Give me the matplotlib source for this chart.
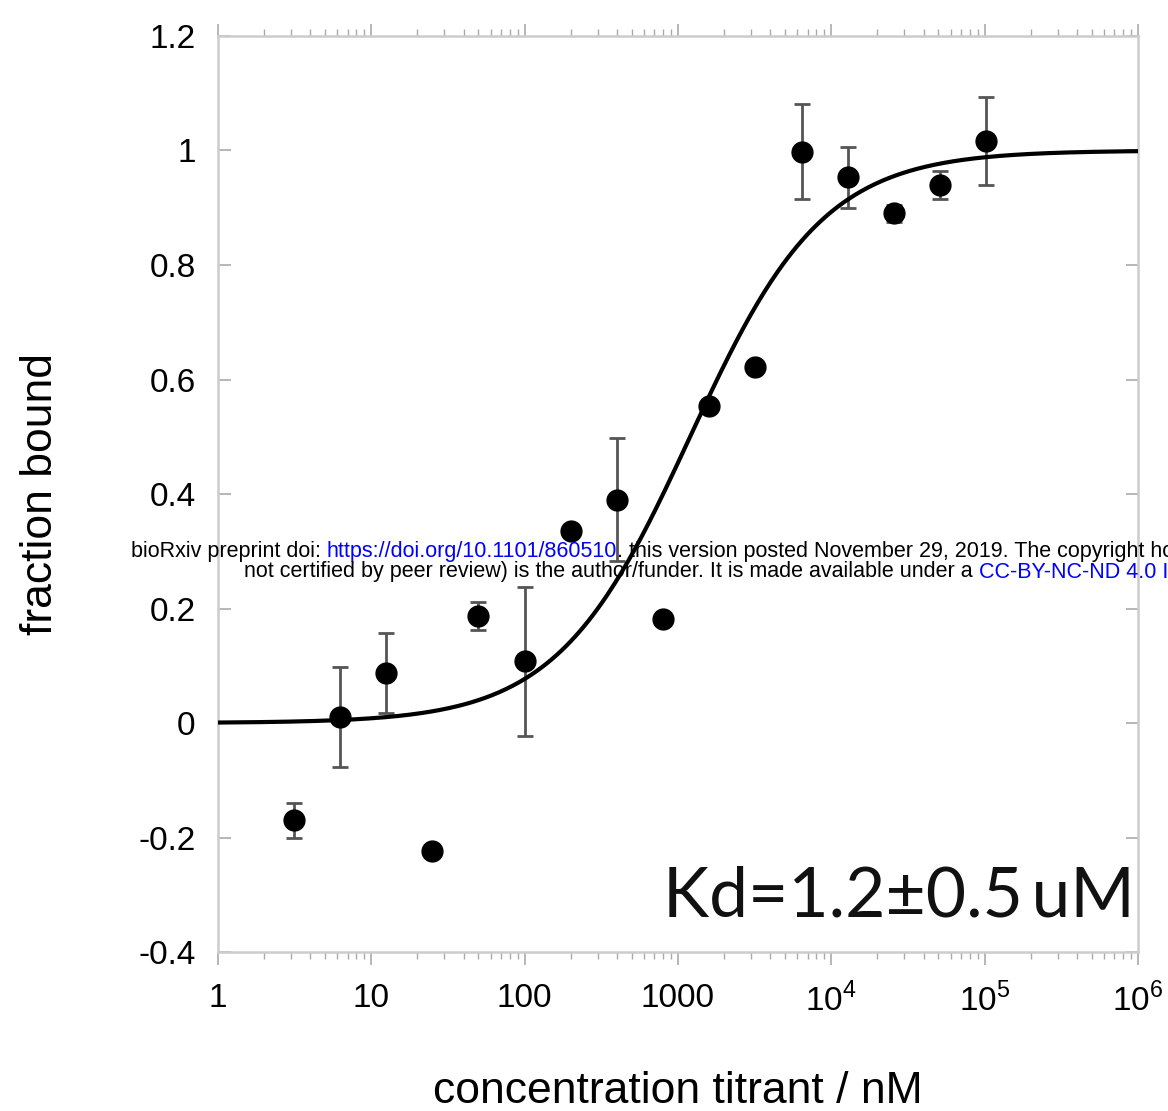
import numpy as np
import matplotlib
matplotlib.use("Agg")
import matplotlib.pyplot as plt
from matplotlib.ticker import FixedLocator, FixedFormatter, LogLocator, NullFormatter

plt.rcParams['font.family'] = ['Liberation Sans', 'DejaVu Sans']
plt.rcParams['mathtext.fontset'] = 'custom'
plt.rcParams['mathtext.rm'] = 'Liberation Sans'

# data (concentration in nM, fraction bound, error)
conc = [3.125, 6.25, 12.5, 25, 50, 100, 200, 400, 800, 1600, 3200, 6400, 12800, 25600, 51200, 102400]
frac = [-0.170, 0.010, 0.087, -0.224, 0.187, 0.108, 0.336, 0.390, 0.182, 0.554, 0.622, 0.998, 0.953, 0.890, 0.940, 1.017]
err  = [0.030, 0.087, 0.070, 0.000, 0.025, 0.130, 0.000, 0.107, 0.000, 0.000, 0.000, 0.083, 0.053, 0.015, 0.025, 0.077]
kd_nM = 1200.0
xticks = [1, 10, 100, 1000, 1e4, 1e5, 1e6]
xticklabels = ['1', '10', '100', '1000', '10$^{4}$', '10$^{5}$', '10$^{6}$']
yticks = [-0.4, -0.2, 0, 0.2, 0.4, 0.6, 0.8, 1, 1.2]
yticklabels = ['-0.4', '-0.2', '0', '0.2', '0.4', '0.6', '0.8', '1', '1.2']

fig = plt.figure(figsize=(11.68, 11.11), dpi=100)
ax = fig.add_axes([0.1866, 0.1431, 0.9743 - 0.1866, 0.9676 - 0.1431])

# fit curve (single-site binding model)
xf = np.logspace(0, 6, 400)
yf = xf / (kd_nM + xf)
ax.plot(xf, yf, color='black', lw=3.0, zorder=3)

ax.errorbar(conc, frac, yerr=err, fmt='none', ecolor='#555555', elinewidth=2.0,
            capsize=5.5, capthick=2.0, zorder=2)
ax.plot(conc, frac, 'o', color='black', ms=15, zorder=4)

ax.set_xscale('log')
ax.set_xlim(1, 1e6)
ax.set_ylim(-0.4, 1.2)
ax.xaxis.set_major_locator(FixedLocator(xticks))
ax.xaxis.set_major_formatter(FixedFormatter(xticklabels))
ax.xaxis.set_minor_locator(LogLocator(base=10, subs=np.arange(2, 10), numticks=20))
ax.xaxis.set_minor_formatter(NullFormatter())
ax.yaxis.set_major_locator(FixedLocator(yticks))
ax.yaxis.set_major_formatter(FixedFormatter(yticklabels))

spine_c = '#cccccc'
for s in ax.spines.values():
    s.set_color(spine_c)
    s.set_linewidth(1.8)

ax.tick_params(axis='x', which='major', direction='out', length=9, width=1.2, color='#aaaaaa',
               top=True, labelsize=24, pad=13)
ax.tick_params(axis='x', which='minor', direction='out', length=5, width=1.0, color='#aaaaaa', top=True)
ax.tick_params(axis='y', which='major', direction='in', length=9, width=1.2, color='#aaaaaa',
               right=True, labelsize=24, pad=16)

ax.set_xlabel('concentration titrant / nM', fontsize=32, labelpad=38)
ax.set_ylabel('fraction bound', fontsize=32, labelpad=56)

ax.text(0.997, 0.06, 'Kd=1.2\u00b10.5\u2009uM', transform=ax.transAxes, ha='right', va='center',
        fontsize=50, family=['Lato', 'DejaVu Sans'], color='#111111', zorder=5)

# bioRxiv watermark overlay
wm = 15.5
t1 = fig.text(131 / 1168, 1 - 551 / 1111, 'bioRxiv preprint doi: ', fontsize=wm, color='black', va='center', ha='left')
a2 = ax.annotate('https://doi.org/10.1101/860510', xy=(1, 0), xycoords=t1, va='bottom', ha='left',
                 fontsize=wm, color='blue', annotation_clip=False)
a3 = ax.annotate('. this version posted November 29, 2019. The copyright holder for this preprint (which was',
                 xy=(1, 0), xycoords=a2, va='bottom', ha='left', fontsize=wm, color='black', annotation_clip=False)
t4 = fig.text(244 / 1168, 1 - 572 / 1111, 'not certified by peer review) is the author/funder. It is made available under a ',
              fontsize=wm, color='black', va='center', ha='left')
a5 = ax.annotate('CC-BY-NC-ND 4.0 International license', xy=(1, 0), xycoords=t4, va='bottom', ha='left',
                 fontsize=wm, color='blue', annotation_clip=False)
for t in (t1, a2, a3, t4, a5):
    t.set_zorder(10)

fig.savefig('out.png', dpi=100)
